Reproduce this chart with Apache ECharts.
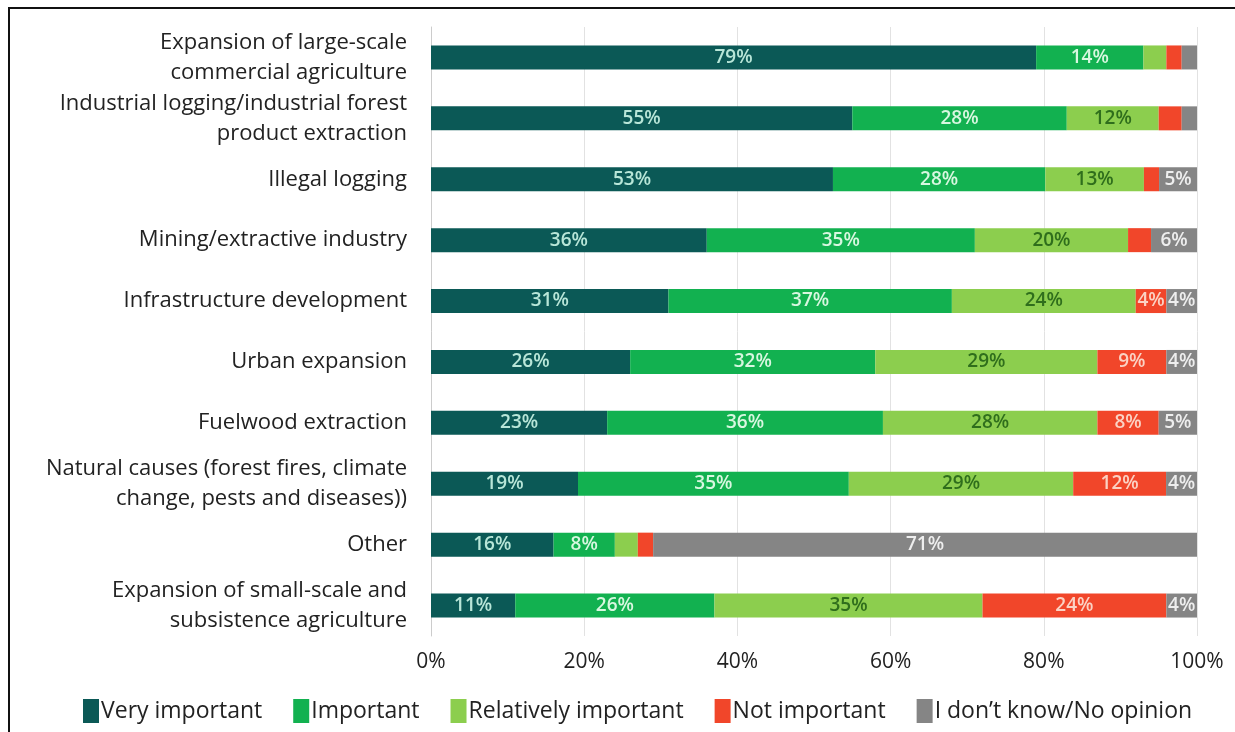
<!DOCTYPE html>
<html>
<head>
<meta charset="utf-8">
<script src="https://cdn.jsdelivr.net/npm/echarts@6/dist/echarts.min.js"></script>
<style>
    html, body { margin: 0; padding: 0; background: #fff; }
    #frame { position: absolute; left: 8px; top: 7px; width: 1227px; height: 725px; border-left: 2px solid #111; border-top: 2px solid #111; box-sizing: border-box; }
    #chart { position: absolute; left: 0; top: 0; width: 1235px; height: 732px; }
</style>
</head>
<body>
<div id="frame"></div>
<div id="chart"></div>
<script>
// categories, top to bottom
var categories = [
    'Expansion of large-scale\ncommercial agriculture',
    'Industrial logging/industrial forest\nproduct extraction',
    'Illegal logging',
    'Mining/extractive industry',
    'Infrastructure development',
    'Urban expansion',
    'Fuelwood extraction',
    'Natural causes (forest fires, climate\nchange, pests and diseases))',
    'Other',
    'Expansion of small-scale and\nsubsistence agriculture'
];

var seriesNames = ['Very important', 'Important', 'Relatively important', 'Not important', 'I don\u2019t know/No opinion'];

// percentages per category (same order as categories)
var veryImportant = [79, 55, 53, 36, 31, 26, 23, 19, 16, 11];
var important = [14, 28, 28, 35, 37, 32, 36, 35, 8, 26];
var relImportant = [3, 12, 13, 20, 24, 29, 28, 29, 3, 35];
var notImportant = [2, 3, 2, 3, 4, 9, 8, 12, 2, 24];
var noOpinion = [2, 2, 5, 6, 4, 4, 5, 4, 71, 4];

var xTicks = [0, 20, 40, 60, 80, 100];

var colors = ['#0b5956', '#12b150', '#8cce4e', '#f1462a', '#858585'];
var labelColors = ['#b8e6d8', '#d8f7e0', '#2f6e1c', '#fbd2c4', '#eeeeee'];

var allSeries = [veryImportant, important, relImportant, notImportant, noOpinion];

// row totals, the chart is a 100% stacked bar
var totals = categories.map(function (c, i) {
    var s = 0;
    allSeries.forEach(function (arr) { s += arr[i]; });
    return s;
});

var myChart = echarts.init(document.getElementById('chart'));

var series = allSeries.map(function (arr, k) {
    return {
        name: seriesNames[k],
        type: 'bar',
        stack: 'total',
        barWidth: 24,
        itemStyle: { color: colors[k] },
        label: {
            show: true,
            position: 'inside',
            fontFamily: 'Open Sans',
            fontSize: 19,
            fontWeight: 600,
            color: labelColors[k],
            formatter: function (p) {
                var raw = arr[p.dataIndex];
                return raw >= 4 ? raw + '%' : '';
            }
        },
        data: arr.map(function (v, i) { return v / totals[i] * 100; })
    };
});

var option = {
    animation: false,
    grid: { left: 431, right: 38, top: 27, bottom: 96, containLabel: false },
    legend: {
        left: 78,
        top: 694,
        itemWidth: 16,
        itemHeight: 24,
        itemGap: 31,
        icon: 'rect',
        textStyle: { fontFamily: 'Open Sans', fontSize: 23, color: '#222', padding: [0, 0, 0, -3] },
        data: seriesNames
    },
    xAxis: {
        type: 'value',
        min: 0,
        max: 100,
        interval: 20,
        axisLine: { show: false },
        axisTick: { show: false },
        splitLine: { show: true, lineStyle: { color: '#e2e2e2', width: 1 } },
        axisLabel: {
            margin: 16,
            fontFamily: 'Open Sans',
            fontSize: 21,
            color: '#222',
            formatter: function (v) { return xTicks.indexOf(v) >= 0 ? v + '%' : ''; }
        }
    },
    yAxis: {
        type: 'category',
        inverse: true,
        data: categories,
        axisLine: { show: true, lineStyle: { color: '#cccccc' } },
        axisTick: { show: false },
        axisLabel: {
            margin: 24,
            fontFamily: 'Open Sans',
            fontSize: 22,
            lineHeight: 30,
            color: '#222',
            align: 'right'
        }
    },
    series: series
};

myChart.setOption(option);
</script>
</body>
</html>
